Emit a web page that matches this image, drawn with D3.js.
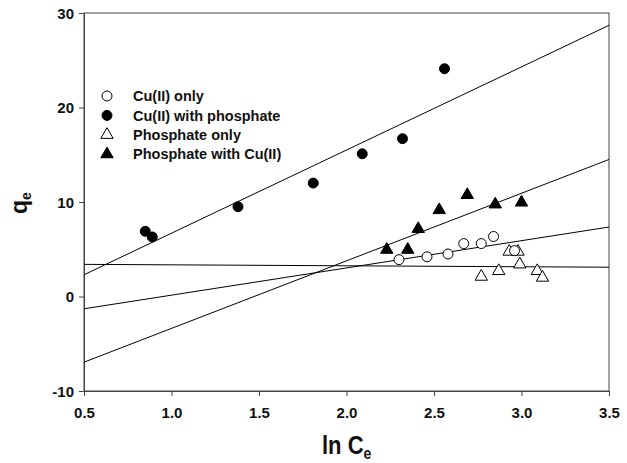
<!DOCTYPE html>
<html><head><meta charset="utf-8">
<script src="https://cdn.jsdelivr.net/npm/d3@7"></script>
<style>body{margin:0;background:#fff}svg{display:block}text{font-family:"Liberation Sans",Arial,sans-serif;font-weight:bold}</style>
</head><body>
<script>
const cuOnlyX = [2.30, 2.46, 2.58, 2.67, 2.77, 2.84, 2.96];
const cuOnlyY = [3.9, 4.2, 4.5, 5.6, 5.6, 6.35, 4.85];
const cuPhosX = [0.85, 0.89, 1.38, 1.81, 2.09, 2.32, 2.56];
const cuPhosY = [6.9, 6.3, 9.5, 12.0, 15.1, 16.7, 24.1];
const phOnlyX = [2.77, 2.87, 2.93, 2.98, 2.99, 3.09, 3.12];
const phOnlyY = [2.1, 2.7, 4.75, 4.75, 3.4, 2.7, 2.0];
const phCuX = [2.23, 2.35, 2.41, 2.53, 2.69, 2.85, 3.00];
const phCuY = [4.95, 4.95, 7.15, 9.15, 10.75, 9.75, 9.95];
// fitted line end values at x = 0.5 and x = 3.5
const fitX = [0.5, 3.5];
const fitCuOnly = [-1.3, 7.35];
const fitCuPhos = [2.3, 28.7];
const fitPhOnly = [3.4, 3.1];
const fitPhCu = [-6.95, 14.5];
const xTicks = [0.5, 1.0, 1.5, 2.0, 2.5, 3.0, 3.5];
const yTicks = [-10, 0, 10, 20, 30];
const legendLabels = ["Cu(II) only", "Cu(II) with phosphate", "Phosphate only", "Phosphate with Cu(II)"];

const W = 627, H = 463;
const svg = d3.select("body").append("svg").attr("width", W).attr("height", H);
const x = d3.scaleLinear().domain([0.5, 3.5]).range([84, 609]);
const y = d3.scaleLinear().domain([-10, 30]).range([391, 13]);

// frame
svg.append("rect").attr("x", 84).attr("y", 13).attr("width", 525).attr("height", 378)
  .attr("fill", "none").attr("stroke", "#444").attr("stroke-width", 1);

const xAxis = svg.append("g").attr("transform", "translate(0,391)")
  .call(d3.axisBottom(x).tickValues(xTicks).tickFormat(d3.format(".1f")).tickSize(5).tickSizeOuter(0));
const yAxis = svg.append("g").attr("transform", "translate(84,0)")
  .call(d3.axisLeft(y).tickValues(yTicks).tickFormat(d => String(d)).tickSize(5).tickSizeOuter(0));
[xAxis, yAxis].forEach(a => {
  a.select(".domain").attr("stroke", "#444");
  a.selectAll(".tick line").attr("stroke", "#444");
  a.selectAll("text").attr("font-size", 15).attr("fill", "#111")
    .attr("font-family", "'Liberation Sans',Arial,sans-serif").attr("font-weight", "bold");
});
xAxis.selectAll("text").attr("y", 27).attr("dy", "0");
yAxis.selectAll("text").attr("x", -10).attr("dy", "0.36em");

// fit lines
const line = d3.line().x(d => x(d[0])).y(d => y(d[1]));
[fitCuOnly, fitCuPhos, fitPhOnly, fitPhCu].forEach(f => {
  svg.append("path").datum(fitX.map((v, i) => [v, f[i]]))
    .attr("d", line).attr("fill", "none").attr("stroke", "#000").attr("stroke-width", 1);
});

const circ = d3.symbol().type(d3.symbolCircle).size(78);
const tri = d3.symbol().type(d3.symbolTriangle).size(66);
function pts(xs, ys, sym, filled) {
  svg.append("g").selectAll("path").data(xs.map((v, i) => [v, ys[i]])).join("path")
    .attr("d", sym).attr("transform", d => `translate(${x(d[0])},${y(d[1])})`)
    .attr("fill", filled ? "#000" : "#fff").attr("stroke", "#000").attr("stroke-width", 1);
}
pts(phOnlyX, phOnlyY, tri, false);
pts(phCuX, phCuY, tri, true);
pts(cuOnlyX, cuOnlyY, circ, false);
pts(cuPhosX, cuPhosY, circ, true);

// legend
const legSyms = [[circ, false], [circ, true], [tri, false], [tri, true]];
legendLabels.forEach((t, i) => {
  const yy = 96 + i * 19.4;
  svg.append("path").attr("d", legSyms[i][0]).attr("transform", `translate(107,${yy})`)
    .attr("fill", legSyms[i][1] ? "#000" : "#fff").attr("stroke", "#000");
  svg.append("text").attr("x", 133).attr("y", yy).attr("dy", "0.36em")
    .attr("font-size", 14.5).attr("fill", "#111").text(t);
});

// axis titles
const xt = svg.append("text").attr("transform", "translate(322,453.5) scale(1,1.18)")
  .attr("font-size", 22).attr("fill", "#111");
xt.append("tspan").text("ln C");
xt.append("tspan").attr("font-size", 14).attr("dy", 5).text("e");
const yt = svg.append("text").attr("transform", "translate(27,203) rotate(-90)")
  .attr("text-anchor", "middle").attr("font-size", 23).attr("fill", "#111");
yt.append("tspan").text("q");
yt.append("tspan").attr("font-size", 14).attr("dy", 4).text("e");
</script>
</body></html>
